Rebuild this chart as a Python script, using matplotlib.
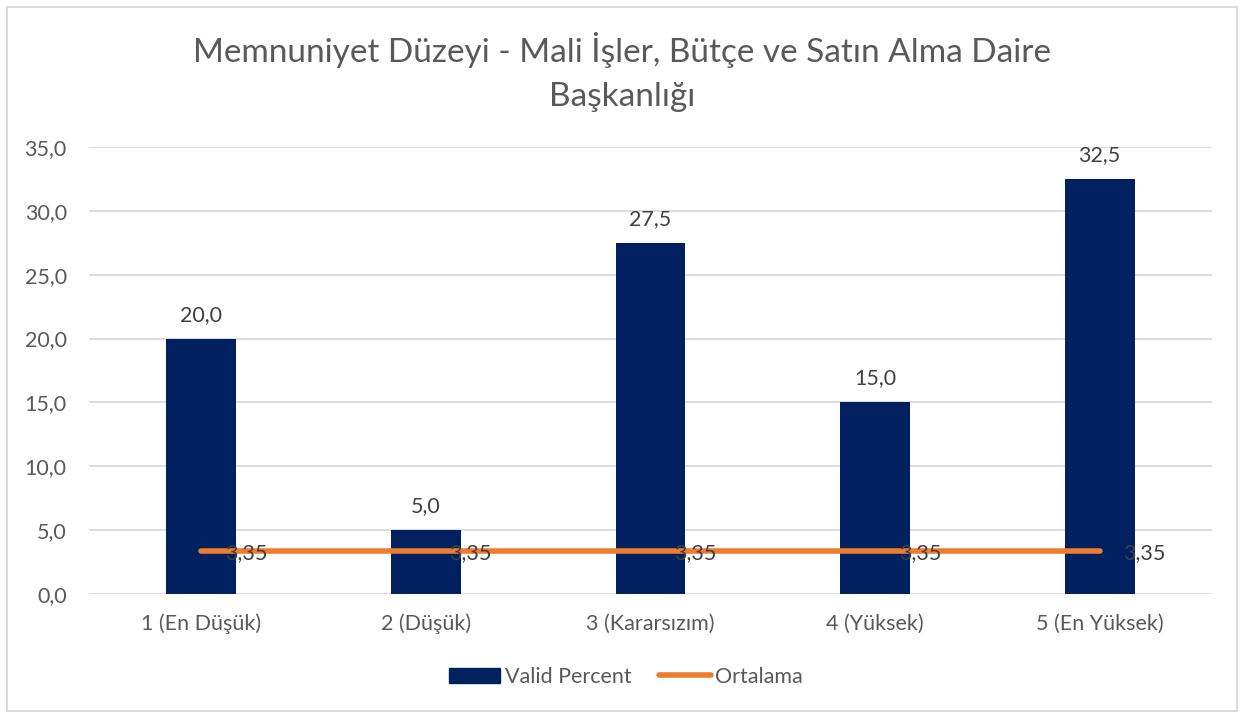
import matplotlib.pyplot as plt
from matplotlib.patches import Rectangle
from matplotlib.lines import Line2D

plt.rcParams['font.family'] = ['Lato', 'DejaVu Sans']

categories = ['1 (En Düşük)', '2 (Düşük)', '3 (Kararsızım)', '4 (Yüksek)', '5 (En Yüksek)']
valid_percent = [20.0, 5.0, 27.5, 15.0, 32.5]
ortalama = [3.35, 3.35, 3.35, 3.35, 3.35]
yticks = [0, 5, 10, 15, 20, 25, 30, 35]

txt = '#595959'
grid = '#d9d9d9'
navy = '#002060'
orange = '#ED7D31'
fs = 15.5

def tr(v, d=1):
    return f'{v:.{d}f}'.replace('.', ',')

fig = plt.figure(figsize=(12.44, 7.18), dpi=100)
ax = fig.add_axes([89 / 1244, 1 - 594 / 718, 1123 / 1244, 447 / 718])

x = list(range(len(categories)))
ax.bar(x, valid_percent, width=0.31, color=navy, zorder=2, label='Valid Percent')
ax.plot(x, ortalama, color=orange, lw=4, solid_capstyle='round', zorder=3, label='Ortalama')

for xi, v in zip(x, valid_percent):
    ax.annotate(tr(v), (xi, v), xytext=(0, 10), textcoords='offset points',
                ha='center', va='bottom', fontsize=fs, color='#404040')
for xi, v in zip(x, ortalama):
    ax.annotate(tr(v, 2), (xi, v), xytext=(17, -1), textcoords='offset points',
                ha='left', va='center', fontsize=fs, color='#404040', zorder=4)

ax.set_xlim(-0.5, 4.5)
ax.set_ylim(0, 35)
ax.set_yticks(yticks)
ax.set_yticklabels([tr(t) for t in yticks])
ax.set_xticks(x)
ax.set_xticklabels(categories)
ax.tick_params(axis='both', length=0, labelsize=fs, colors=txt)
ax.tick_params(axis='y', pad=16)
ax.tick_params(axis='x', pad=14)
ax.yaxis.grid(True, color=grid, lw=1.3, zorder=0)
ax.set_axisbelow(True)
for s in ax.spines.values():
    s.set_visible(False)

fig.text(0.5, 1 - 72 / 718, 'Memnuniyet Düzeyi - Mali İşler, Bütçe ve Satın Alma Daire\nBaşkanlığı',
         ha='center', va='center', fontsize=24, color=txt, linespacing=1.6)

handles = [Rectangle((0, 0), 1, 1, color=navy),
           Line2D([0], [0], color=orange, lw=4, solid_capstyle='round')]
fig.legend(handles, ['Valid Percent', 'Ortalama'], loc='center', bbox_to_anchor=(0.503, 1 - 677 / 718),
           ncol=2, frameon=False, fontsize=fs, labelcolor=txt, handlelength=2.4,
           handletextpad=0.2, columnspacing=1.3)

fig.add_artist(Rectangle((7 / 1244, 7 / 718), 1230 / 1244, 704 / 718, transform=fig.transFigure,
                         fill=False, edgecolor='#d9d9d9', lw=1.3))

fig.savefig('out.png', dpi=100, facecolor='white')
